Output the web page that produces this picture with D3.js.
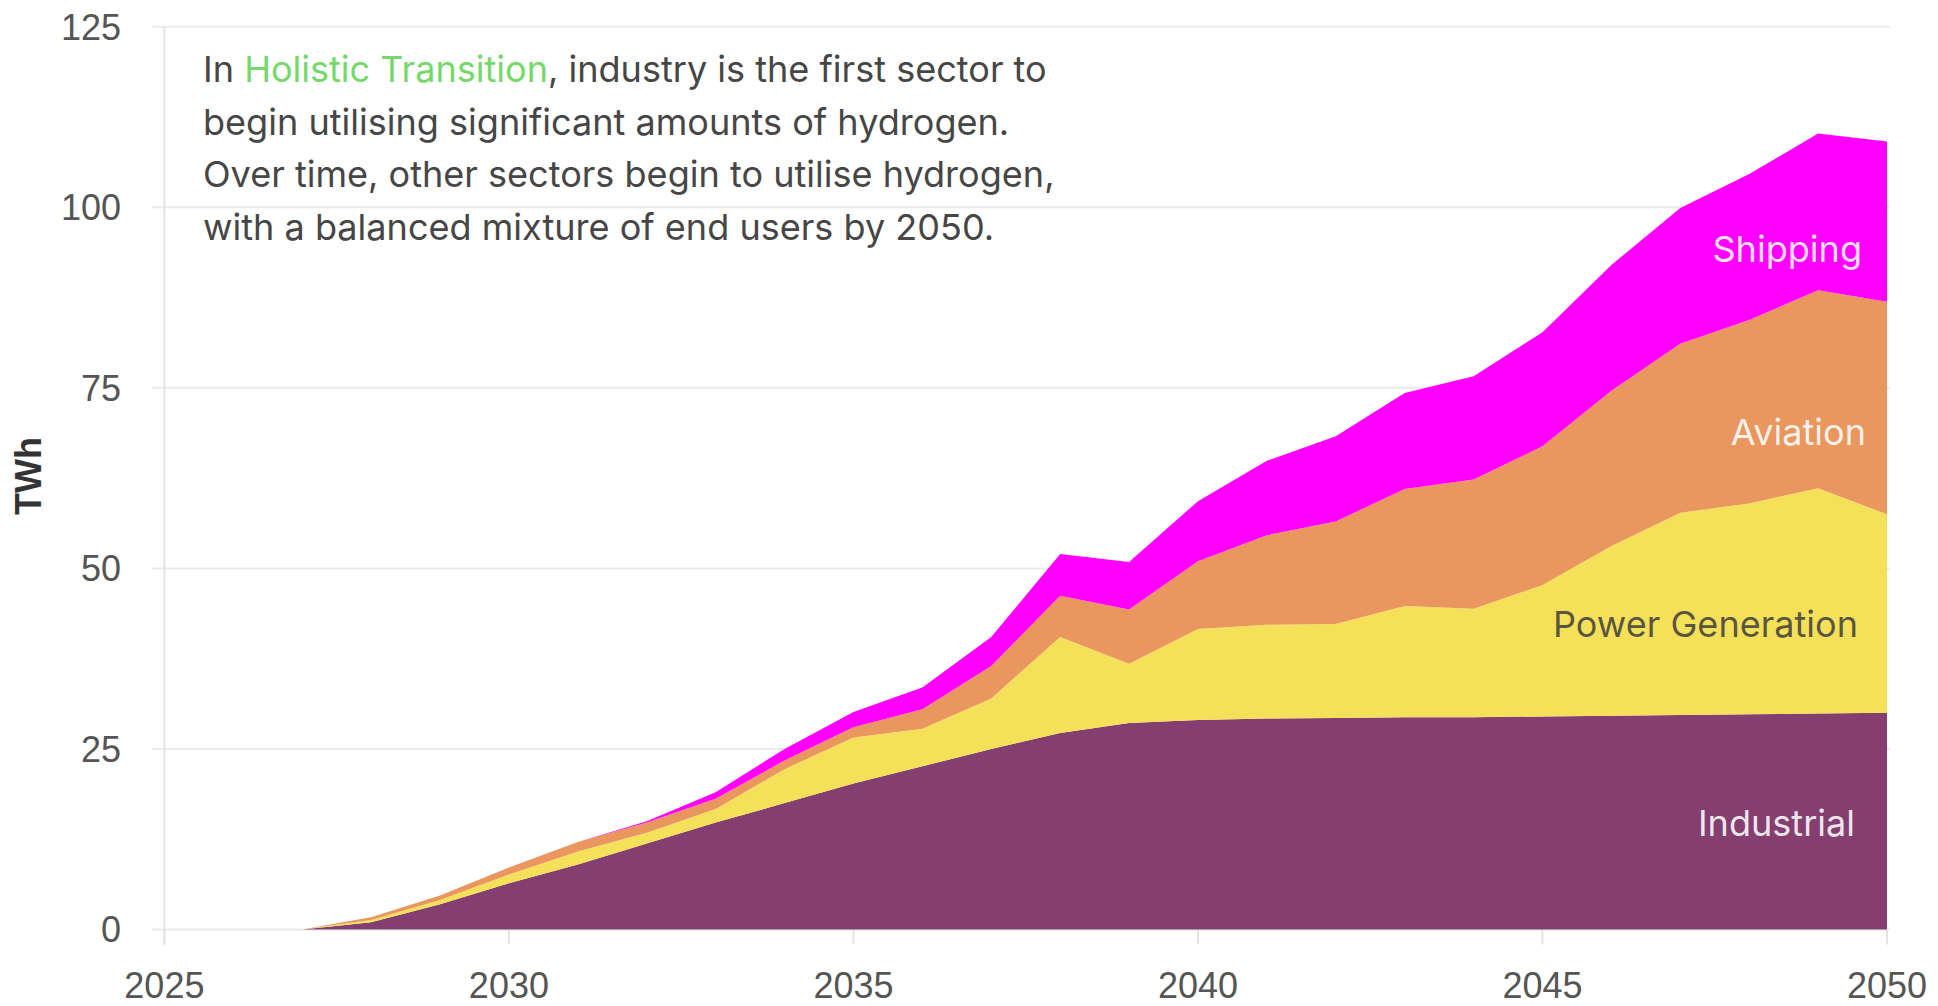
<!DOCTYPE html>
<html>
<head>
<meta charset="utf-8">
<script src="https://cdn.jsdelivr.net/npm/d3@7"></script>
<style>
  body { margin: 0; background: #fff; }
  svg { display: block; }
</style>
</head>
<body>
<svg id="chart"></svg>
<script>
// data (TWh)
const years = d3.range(2025, 2051);
const industrial = [0, 0, 0, 1.0, 3.5, 6.4, 9.0, 11.9, 14.8, 17.5, 20.2, 22.6, 25.0, 27.2, 28.6, 29.0, 29.2, 29.3, 29.4, 29.4, 29.5, 29.6, 29.7, 29.8, 29.9, 30.0];
const powerGeneration = [0, 0, 0, 0.3, 0.6, 1.2, 1.8, 1.5, 1.9, 4.7, 6.4, 5.2, 7.0, 13.3, 8.2, 12.6, 13.0, 13.0, 15.4, 15.0, 18.2, 23.5, 28.0, 29.2, 31.2, 27.5];
const aviation = [0, 0, 0, 0.4, 0.6, 1.0, 1.3, 1.4, 1.4, 1.2, 1.4, 2.7, 4.5, 5.7, 7.5, 9.4, 12.4, 14.2, 16.2, 17.9, 19.2, 21.5, 23.4, 25.4, 27.4, 29.4];
const shipping = [0, 0, 0, 0, 0, 0, 0, 0.2, 0.9, 1.6, 2.1, 3.0, 4.0, 5.8, 6.6, 8.3, 10.3, 11.8, 13.3, 14.3, 15.8, 17.4, 18.8, 20.2, 21.7, 22.2];
const seriesNames = ["Industrial", "Power Generation", "Aviation", "Shipping"];
const yTicks = [0, 25, 50, 75, 100, 125];
const xTicks = [2025, 2030, 2035, 2040, 2045, 2050];
const yLabel = "TWh";
const noteLines = [
    [["In ", false], ["Holistic Transition", true], [", industry is the first sector to", false]],
    [["begin utilising significant amounts of hydrogen.", false]],
    [["Over time, other sectors begin to utilise hydrogen,", false]],
    [["with a balanced mixture of end users by 2050.", false]]
];

const width = 1938, height = 1006;
const svg = d3.select("#chart").attr("width", width).attr("height", height);

//scales
const xScale = d3.scaleLinear().domain([2025, 2050]).range([164.4, 1887]);
const yScale = d3.scaleLinear().domain([0, 125]).range([929.5, 26.7]);

const colors = d3.scaleOrdinal()
    .domain(seriesNames)
    .range(["#843e70", "#f5e059", "#e9965f", "#ff00ff"]);

//build table for the stack
const table = years.map((y, i) => ({
    year: y,
    "Industrial": industrial[i],
    "Power Generation": powerGeneration[i],
    "Aviation": aviation[i],
    "Shipping": shipping[i]
}));
const stacked = d3.stack().keys(seriesNames)(table);

//gridlines
svg.append("g").selectAll("line").data(yTicks).join("line")
    .attr("x1", 152).attr("x2", 1890)
    .attr("y1", d => yScale(d)).attr("y2", d => yScale(d))
    .attr("stroke", "#ebebeb").attr("stroke-width", 2);

//y axis line
svg.append("line")
    .attr("x1", xScale(2025)).attr("x2", xScale(2025))
    .attr("y1", yScale(125)).attr("y2", yScale(0) + 15)
    .attr("stroke", "#e3e3e3").attr("stroke-width", 2);

//x ticks
svg.append("g").selectAll("line").data(xTicks).join("line")
    .attr("x1", d => xScale(d)).attr("x2", d => xScale(d))
    .attr("y1", yScale(0)).attr("y2", yScale(0) + 15)
    .attr("stroke", "#e3e3e3").attr("stroke-width", 2);

//areas
const area = d3.area()
    .x(d => xScale(d.data.year))
    .y0(d => yScale(d[0]))
    .y1(d => yScale(d[1]));
svg.append("g").selectAll("path").data(stacked).join("path")
    .attr("d", area)
    .attr("fill", d => colors(d.key));

//tick labels
svg.append("g").selectAll("text").data(yTicks).join("text")
    .attr("x", 121).attr("y", d => yScale(d)).attr("dy", "0.36em")
    .attr("text-anchor", "end")
    .style("font-family", "'Liberation Sans', Arial, sans-serif")
    .style("font-size", "36px").attr("fill", "#555")
    .text(d => d);

svg.append("g").selectAll("text").data(xTicks).join("text")
    .attr("x", d => xScale(d)).attr("y", 998)
    .attr("text-anchor", "middle")
    .style("font-family", "'Liberation Sans', Arial, sans-serif")
    .style("font-size", "36px").attr("fill", "#555")
    .text(d => d);

//y title
svg.append("text")
    .attr("transform", "translate(41,476) rotate(-90)")
    .attr("text-anchor", "middle")
    .style("font-family", "'Liberation Sans', Arial, sans-serif")
    .style("font-size", "36px").style("font-weight", "bold")
    .attr("fill", "#333")
    .text(yLabel);

//annotation
const noteFont = "Inter, 'Open Sans', sans-serif";
const note = svg.append("g");
noteLines.forEach((parts, i) => {
    const t = note.append("text")
        .attr("x", 203).attr("y", 82 + i * 52.5)
        .style("font-family", noteFont)
        .style("font-size", "33px");
    parts.forEach(p => {
        t.append("tspan").text(p[0]).attr("fill", p[1] ? "#74d96a" : "#464646");
    });
});
//fit first line to its width in the picture
const first = note.select("text").node().getComputedTextLength();
const noteSize = 33 * 844 / first;
note.selectAll("text").style("font-size", noteSize + "px");

//series labels
const labelSpec = [
    {name: "Shipping", v: 94.2, fill: "#fff", op: 0.88},
    {name: "Aviation", v: 68.9, fill: "#fff", op: 0.88},
    {name: "Power Generation", v: 42.3, fill: "#3c3c3c", op: 0.85},
    {name: "Industrial", v: 14.8, fill: "#fff", op: 0.88}
];
const labelRight = [1862, 1866, 1858, 1855];
svg.append("g").selectAll("text").data(labelSpec).join("text")
    .attr("x", (d, i) => labelRight[i])
    .attr("y", d => yScale(d.v)).attr("dy", "0.36em")
    .attr("text-anchor", "end")
    .style("font-family", noteFont)
    .style("font-size", noteSize + "px")
    .attr("fill", d => d.fill).attr("fill-opacity", d => d.op)
    .text(d => d.name);
</script>
</body>
</html>
